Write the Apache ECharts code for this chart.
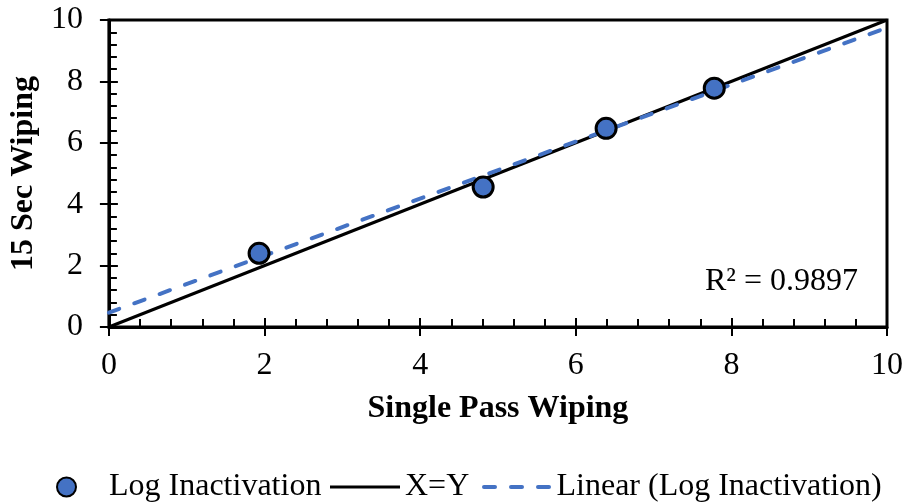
<!DOCTYPE html>
<html>
<head>
<meta charset="utf-8">
<script src="https://cdn.jsdelivr.net/npm/echarts@6/dist/echarts.min.js"></script>
<style>
  html, body { margin: 0; padding: 0; background: #fff; }
  #chart { width: 906px; height: 503px; }
</style>
</head>
<body>
<div id="chart"></div>
<script>
// Log inactivation: single pass wiping vs 15 second wiping
const singlePass = [1.93, 4.81, 6.39, 7.78];
const fifteenSec = [2.40, 4.56, 6.47, 7.78];

// Reference line X = Y
const identityX = [0, 10];
const identityY = [0, 10];

// Excel linear trendline endpoints
const trendX = [0, 10];
const trendY = [0.47, 9.75];
const rSquaredText = 'R² = 0.9897';

const axisTicks = [0, 2, 4, 6, 8, 10];

const FONT = 'Liberation Serif';
const BLUE = '#4472C4';

const pairs = (xs, ys) => xs.map((x, i) => [x, ys[i]]);

// Legend glyphs: a plain stroke and a three-dash stroke
const SOLID_ICON = 'path://M0,0h70v3h-70z';
const DASH_ICON = 'path://M2,0h11a2,2 0 0 1 0,4h-11a2,2 0 0 1 0,-4z' +
  'M29,0h11a2,2 0 0 1 0,4h-11a2,2 0 0 1 0,-4z' +
  'M56,0h11a2,2 0 0 1 0,4h-11a2,2 0 0 1 0,-4z';

const chart = echarts.init(document.getElementById('chart'), null, { renderer: 'canvas' });

const baseAxis = {
  type: 'value',
  min: axisTicks[0],
  max: axisTicks[axisTicks.length - 1],
  interval: axisTicks[1] - axisTicks[0],
  splitLine: { show: false }
};

const option = {
  backgroundColor: '#fff',
  animation: false,
  grid: {
    left: 108, right: 19, top: 20, bottom: 176,
    show: true, borderColor: '#000', borderWidth: 3, backgroundColor: 'transparent'
  },
  xAxis: [
    Object.assign({}, baseAxis, {
      position: 'bottom',
      name: 'Single Pass Wiping',
      nameLocation: 'middle',
      nameGap: 66,
      nameTextStyle: { fontFamily: FONT, fontSize: 32, fontWeight: 'bold', color: '#000' },
      axisLine: { show: true, lineStyle: { color: '#000', width: 3 } },
      axisTick: { show: true, inside: false, length: 9, lineStyle: { color: '#000', width: 2 } },
      axisLabel: { fontFamily: FONT, fontSize: 32, color: '#000', margin: 23 }
    }),
    Object.assign({}, baseAxis, {
      position: 'bottom',
      axisLine: { show: false },
      axisTick: { show: true, inside: true, length: 9, lineStyle: { color: '#000', width: 2 } },
      minorTick: { show: true, splitNumber: 5, length: 8, lineStyle: { color: '#000', width: 2 } },
      axisLabel: { show: false }
    })
  ],
  yAxis: [
    Object.assign({}, baseAxis, {
      position: 'left',
      name: '15 Sec Wiping',
      nameLocation: 'middle',
      nameGap: 62,
      nameTextStyle: { fontFamily: FONT, fontSize: 32, fontWeight: 'bold', color: '#000' },
      axisLine: { show: true, lineStyle: { color: '#000', width: 3 } },
      axisTick: { show: true, inside: false, length: 9, lineStyle: { color: '#000', width: 2 } },
      axisLabel: { fontFamily: FONT, fontSize: 32, color: '#000', margin: 26 }
    }),
    Object.assign({}, baseAxis, {
      position: 'left',
      axisLine: { show: false },
      axisTick: { show: true, inside: true, length: 9, lineStyle: { color: '#000', width: 2 } },
      minorTick: { show: true, splitNumber: 5, length: 8, lineStyle: { color: '#000', width: 2 } },
      axisLabel: { show: false }
    })
  ],
  legend: [
    {
      left: 56, top: 471, padding: 0,
      itemWidth: 19, itemHeight: 19,
      data: [{ name: 'Log Inactivation', icon: 'circle' }],
      textStyle: { fontFamily: FONT, fontSize: 32, color: '#000', padding: [0, 0, 0, 28] }
    },
    {
      left: 330, top: 471, padding: 0,
      itemWidth: 70, itemHeight: 3,
      data: [{ name: 'X=Y', icon: SOLID_ICON, itemStyle: { color: '#000', borderWidth: 0 } }],
      textStyle: { fontFamily: FONT, fontSize: 32, color: '#000' }
    },
    {
      left: 482, top: 471, padding: 0,
      itemWidth: 70, itemHeight: 4,
      data: [{ name: 'Linear (Log Inactivation)', icon: DASH_ICON, itemStyle: { color: BLUE, borderWidth: 0 } }],
      textStyle: { fontFamily: FONT, fontSize: 32, color: '#000' }
    }
  ],
  graphic: [
    {
      type: 'text',
      right: 48, top: 266,
      style: { text: rSquaredText, font: '32px "Liberation Serif"', fill: '#000' }
    }
  ],
  series: [
    {
      name: 'Log Inactivation',
      type: 'scatter',
      xAxisIndex: 0, yAxisIndex: 0,
      z: 5,
      symbol: 'circle',
      symbolSize: 20,
      itemStyle: { color: BLUE, borderColor: '#000', borderWidth: 3, opacity: 1 },
      data: pairs(singlePass, fifteenSec)
    },
    {
      name: 'X=Y',
      type: 'line',
      xAxisIndex: 0, yAxisIndex: 0,
      z: 3,
      symbol: 'none',
      lineStyle: { color: '#000', width: 3 },
      itemStyle: { color: '#000' },
      data: pairs(identityX, identityY)
    },
    {
      name: 'Linear (Log Inactivation)',
      type: 'line',
      xAxisIndex: 0, yAxisIndex: 0,
      z: 4,
      symbol: 'none',
      lineStyle: { color: BLUE, width: 4, type: [11, 16], cap: 'round' },
      itemStyle: { color: BLUE },
      data: pairs(trendX, trendY)
    }
  ]
};

chart.setOption(option);
</script>
</body>
</html>
